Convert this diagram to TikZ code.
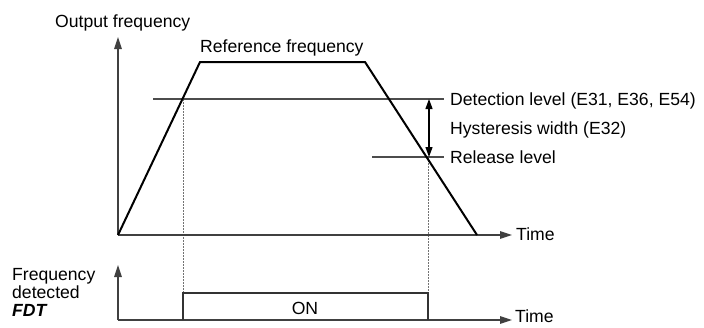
\documentclass[tikz,border=0pt]{standalone}
\usepackage{fontspec}
\setmainfont{Liberation Sans}
\usetikzlibrary{arrows.meta}
\begin{document}
\begin{tikzpicture}[x=1pt,y=-1pt,
  lbl/.style={inner sep=0pt,anchor=base west,font=\fontsize{17.6}{20}\selectfont},
  axis/.style={draw=black!75,line width=1.3pt,-{Triangle[length=12pt,width=7.5pt]}},
  curve/.style={draw=black,line width=2pt,line join=miter},
  level/.style={draw=black!70,line width=1.3pt},
  guide/.style={draw=black!55,line width=1pt,dash pattern=on 1.5pt off 1.5pt},
  pulse/.style={draw=black!80,line width=1.8pt},
  hyst/.style={draw=black,line width=1.2pt,{Triangle[length=10pt,width=7pt]}-{Triangle[length=10pt,width=7pt]}}]
\useasboundingbox (0,0) rectangle (704,327);
% coordinates
\coordinate (o) at (118,235);
\coordinate (ytop) at (118,37);
\coordinate (xend) at (512,235);
\coordinate (t1) at (200,62);
\coordinate (t2) at (365,62);
\coordinate (t3) at (477,235);
\coordinate (dl) at (153,99);
\coordinate (dr) at (444,99);
\coordinate (rl) at (372,157);
\coordinate (rr) at (444,157);
\coordinate (hu) at (429,99);
\coordinate (hd) at (429,157);
\coordinate (c1) at (183,99);
\coordinate (c2) at (428,157);
\coordinate (o2) at (118,320);
\coordinate (ytop2) at (118,265);
\coordinate (xend2) at (512,320);
\coordinate (p1) at (183,320);
\coordinate (p2) at (183,293);
\coordinate (p3) at (428,293);
\coordinate (p4) at (428,320);
% guides
\draw[guide] (c1) -- (p2);
\draw[guide] (c2) -- (p3);
% axes
\draw[axis] (o) -- (ytop);
\draw[axis] (o) -- (xend);
\draw[axis] (o2) -- (ytop2);
\draw[axis] (o2) -- (xend2);
% levels
\draw[level] (dl) -- (dr);
\draw[level] (rl) -- (rr);
\draw[hyst] (hu) -- (hd);
% curve
\draw[curve] (o) -- (t1) -- (t2) -- (t3);
% pulse
\draw[pulse] (p1) -- (p2) -- (p3) -- (p4);
% labels
\node[lbl] (lof) at (55,27) {Output frequency};
\node[lbl] (lrf) at (200,52) {Reference frequency};
\node[lbl] (ldl) at (450,105) {Detection level (E31, E36, E54)};
\node[lbl] (lhw) at (450,134) {Hysteresis width (E32)};
\node[lbl] (lrl) at (450,163) {Release level};
\node[lbl] (lt1) at (516,240) {Time};
\node[lbl] (lt2) at (515,322) {Time};
\node[lbl,anchor=base] (lon) at (305,314) {ON};
\node[lbl] (lf1) at (12,280) {Frequency};
\node[lbl] (lf2) at (12,298) {detected};
\node[lbl] (lf3) at (12,316) {\bfseries\itshape FDT};
\end{tikzpicture}
\end{document}
